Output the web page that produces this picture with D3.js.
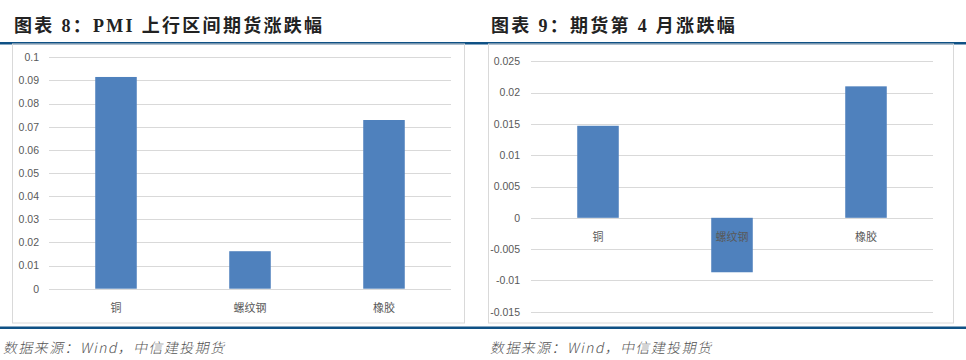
<!DOCTYPE html>
<html>
<head>
<meta charset="utf-8">
<script src="https://cdn.jsdelivr.net/npm/d3@7"></script>
<style>
  body { margin: 0; background: #fff; }
  svg { display: block; }
</style>
</head>
<body>
<div id="chart"></div>
<script>
// Chart 8 data
const cats8 = ["铜", "螺纹钢", "橡胶"];
const vals8 = [0.0915, 0.0162, 0.0729];
const ticks8 = [0, 0.01, 0.02, 0.03, 0.04, 0.05, 0.06, 0.07, 0.08, 0.09, 0.1];
const tickLabels8 = ["0", "0.01", "0.02", "0.03", "0.04", "0.05", "0.06", "0.07", "0.08", "0.09", "0.1"];

// Chart 9 data
const cats9 = ["铜", "螺纹钢", "橡胶"];
const vals9 = [0.0147, -0.0087, 0.0210];
const ticks9 = [-0.015, -0.01, -0.005, 0, 0.005, 0.01, 0.015, 0.02, 0.025];
const tickLabels9 = ["-0.015", "-0.01", "-0.005", "0", "0.005", "0.01", "0.015", "0.02", "0.025"];

const titles = ["图表 8：PMI 上行区间期货涨跌幅", "图表 9：期货第 4 月涨跌幅"];
const source = "数据来源：Wind，中信建投期货";

const ruleColor = "#0f5185";
const barColor = "#4f81bd";
const gridColor = "#d9d9d9";
const textColor = "#595959";

const svg = d3.select("#chart").append("svg")
    .attr("width", 966)
    .attr("height", 360);

// Function to draw one panel (title, rules, box, bars)
function drawPanel(opt) {
    const g = svg.append("g").attr("transform", `translate(${opt.x0}, 0)`);

    // title
    g.append("text")
        .attr("x", opt.titleX)
        .attr("y", 32)
        .attr("font-family", "'Liberation Serif', 'Noto Sans CJK SC', serif")
        .attr("font-weight", "bold")
        .attr("font-size", 18)
        .attr("letter-spacing", 2.3)
        .attr("fill", "#222")
        .text(opt.title);

    // blue rules
    g.append("rect").attr("x", 0).attr("y", 42).attr("width", opt.w).attr("height", 2.5).attr("fill", ruleColor);
    g.append("rect").attr("x", 0).attr("y", 326.5).attr("width", opt.w).attr("height", 2.5).attr("fill", ruleColor);

    // chart border
    g.append("rect")
        .attr("x", opt.boxL + 0.5).attr("y", 44)
        .attr("width", opt.boxR - opt.boxL).attr("height", 279)
        .attr("fill", "none").attr("stroke", gridColor);

    const x = d3.scaleBand()
        .domain(opt.cats)
        .range([opt.plotL, opt.plotR])
        .paddingInner(0.69)
        .paddingOuter(0.345);

    const y = d3.scaleLinear()
        .domain(opt.domain)
        .range(opt.yRange);

    // gridlines
    g.selectAll(".grid")
        .data(opt.ticks)
        .enter()
        .append("line")
        .attr("x1", opt.plotL)
        .attr("x2", opt.plotR)
        .attr("y1", d => Math.round(y(d)) + 0.5)
        .attr("y2", d => Math.round(y(d)) + 0.5)
        .attr("stroke", gridColor)
        .attr("stroke-width", 1.2);

    // y axis labels
    const yAxis = d3.axisLeft(y)
        .tickValues(opt.ticks)
        .tickFormat((d, i) => opt.tickLabels[i])
        .tickSize(0)
        .tickPadding(opt.plotL - opt.labelR);
    const ya = g.append("g")
        .attr("transform", `translate(${opt.plotL}, 0)`)
        .call(yAxis);
    ya.select(".domain").remove();
    ya.selectAll("text")
        .attr("font-family", "'Liberation Sans', Arial, sans-serif")
        .attr("font-size", 10.5)
        .attr("fill", textColor);

    // bars
    g.selectAll(".bar")
        .data(opt.vals)
        .enter()
        .append("rect")
        .attr("x", (d, i) => x(opt.cats[i]))
        .attr("y", d => y(Math.max(0, d)))
        .attr("width", x.bandwidth())
        .attr("height", d => Math.abs(y(d) - y(0)))
        .attr("fill", barColor);

    // category labels at the zero line
    g.selectAll(".cat")
        .data(opt.cats)
        .enter()
        .append("text")
        .attr("x", d => x(d) + x.bandwidth() / 2)
        .attr("y", y(0) + 23)
        .attr("text-anchor", "middle")
        .attr("font-family", "'Noto Sans CJK SC', sans-serif")
        .attr("font-size", 11)
        .attr("fill", textColor)
        .text(d => d);

    // source
    g.append("text")
        .attr("x", opt.srcX)
        .attr("y", 353)
        .attr("font-family", "'Noto Sans CJK SC', sans-serif")
        .attr("font-weight", 300)
        .attr("font-size", 14)
        .attr("letter-spacing", 1.4)
        .attr("fill", "#555")
        .attr("transform", `skewX(-12) translate(${353 * Math.tan(12 * Math.PI / 180)}, 0)`)
        .text(source);
}

drawPanel({
    x0: 0, w: 483, title: titles[0], titleX: 14, srcX: 3,
    boxL: 12, boxR: 464,
    plotL: 49, plotR: 451, labelR: 39,
    cats: cats8, vals: vals8, ticks: ticks8, tickLabels: tickLabels8,
    domain: [0, 0.1], yRange: [288.7, 57.3]
});

drawPanel({
    x0: 483, w: 483, title: titles[1], titleX: 8, srcX: 7,
    boxL: 5, boxR: 470,
    plotL: 48, plotR: 450, labelR: 37,
    cats: cats9, vals: vals9, ticks: ticks9, tickLabels: tickLabels9,
    domain: [-0.015, 0.025], yRange: [311.7, 61.3]
});
</script>
</body>
</html>
